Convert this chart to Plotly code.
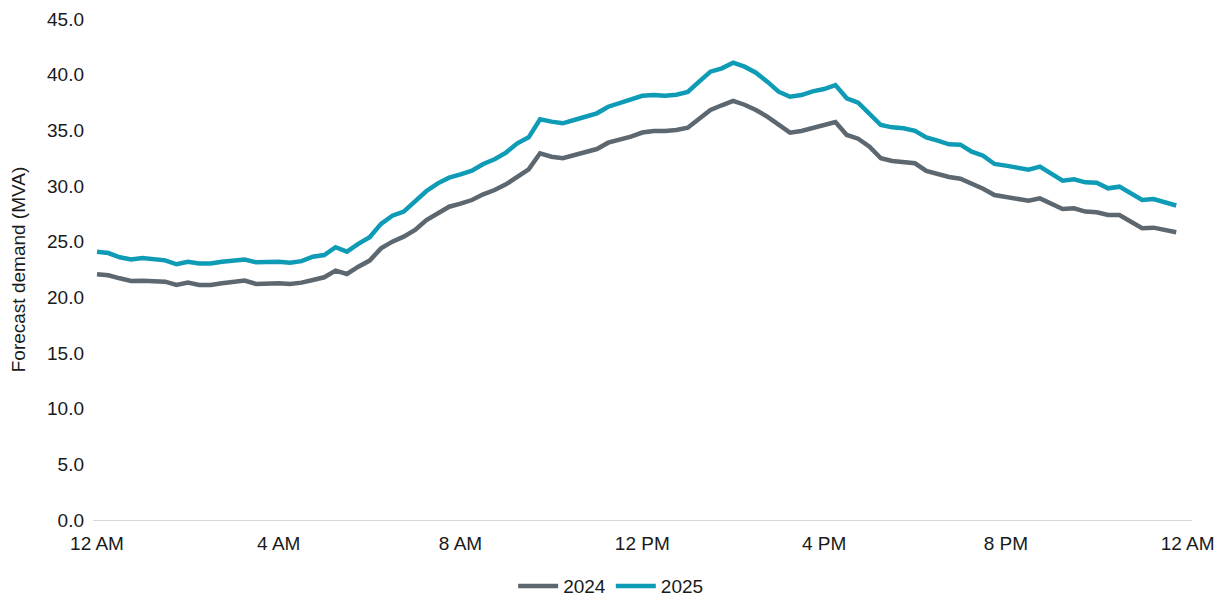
import plotly.graph_objects as go

# 15-minute intervals, 12 AM .. 11:45 PM (hours)
hours = [i * 0.25 for i in range(96)]

demand_2024 = [
    22.07, 21.98, 21.71, 21.47, 21.50, 21.50, 21.41, 21.11, 21.32, 21.11, 21.11, 21.26,
    21.38, 21.50, 21.20, 21.26, 21.26, 21.20, 21.32, 21.56, 21.80, 22.40, 22.10, 22.75,
    23.30, 24.40, 25.00, 25.45, 26.05, 26.95, 27.60, 28.14, 28.41, 28.74, 29.25, 29.64,
    30.15, 30.78, 31.50, 32.94, 32.63, 32.49, 32.76, 33.03, 33.32, 33.89, 34.13, 34.43,
    34.80, 34.94, 34.94, 35.03, 35.24, 36.08, 36.83, 37.25, 37.64, 37.30, 36.83, 36.23,
    35.48, 34.79, 34.94, 35.24, 35.45, 35.75, 34.58, 34.25, 33.53, 32.49, 32.25, 32.13,
    32.04, 31.35, 31.08, 30.81, 30.66, 30.24, 29.76, 29.19, 29.04, 28.89, 28.68, 28.89,
    28.38, 27.93, 28.00, 27.70, 27.64, 27.40, 27.40, 26.80, 26.20, 26.26, 26.05, 25.85,
]

demand_2025 = [
    24.10, 23.98, 23.60, 23.40, 23.53, 23.44, 23.32, 22.97, 23.20, 23.05, 23.05, 23.20,
    23.30, 23.40, 23.15, 23.20, 23.20, 23.10, 23.25, 23.65, 23.80, 24.50, 24.10, 24.80,
    25.40, 26.60, 27.33, 27.70, 28.60, 29.55, 30.24, 30.75, 31.05, 31.38, 31.98, 32.40,
    33.00, 33.83, 34.37, 35.99, 35.78, 35.63, 35.93, 36.23, 36.53, 37.12, 37.42, 37.81,
    38.10, 38.17, 38.11, 38.20, 38.44, 39.37, 40.27, 40.57, 41.08, 40.72, 40.18, 39.37,
    38.47, 38.02, 38.17, 38.50, 38.71, 39.07, 37.88, 37.48, 36.53, 35.48, 35.27, 35.18,
    34.95, 34.37, 34.07, 33.74, 33.71, 33.08, 32.72, 31.98, 31.83, 31.65, 31.47, 31.74,
    31.14, 30.48, 30.60, 30.33, 30.30, 29.79, 29.94, 29.34, 28.74, 28.83, 28.54, 28.25,
]

x_tick_vals = [0, 4, 8, 12, 16, 20, 24]
x_tick_text = ["12 AM", "4 AM", "8 AM", "12 PM", "4 PM", "8 PM", "12 AM"]
y_tick_vals = [0, 5, 10, 15, 20, 25, 30, 35, 40, 45]

FONT = "Liberation Sans, Arial, sans-serif"

fig = go.Figure()
fig.add_trace(go.Scatter(x=hours, y=demand_2024, mode="lines", name="2024",
                         line=dict(color="#5d676f", width=4.5)))
fig.add_trace(go.Scatter(x=hours, y=demand_2025, mode="lines", name="2025",
                         line=dict(color="#0e9bb6", width=4.5)))

# page body has an 8px default margin, so the figure is sized/offset accordingly
fig.update_layout(
    width=1216, height=588,
    margin=dict(l=85, r=32, t=11, b=76, autoexpand=False),
    paper_bgcolor="white", plot_bgcolor="white",
    font=dict(family=FONT, size=19, color="#1a1a1a"),
    showlegend=True,
    legend=dict(orientation="h", x=0.471, xanchor="center", y=-0.132, yanchor="middle",
                font=dict(size=19, color="#1a1a1a"), traceorder="normal",
                itemwidth=40, tracegroupgap=0),
    xaxis=dict(range=[-0.088, 24.097], tickvals=x_tick_vals, ticktext=x_tick_text,
               showgrid=False, zeroline=False, showline=True, linecolor="#d9d9d9",
               linewidth=1, ticks="", ticklabelstandoff=6, automargin=False),
    yaxis=dict(range=[0, 45], tickvals=y_tick_vals, tickformat=".1f",
               showgrid=False, zeroline=False, showline=False, ticks="",
               ticklabelstandoff=8, automargin=False,
               title=dict(text="Forecast demand (MVA)", font=dict(size=19), standoff=17)),
)

fig.write_html("out.html")
